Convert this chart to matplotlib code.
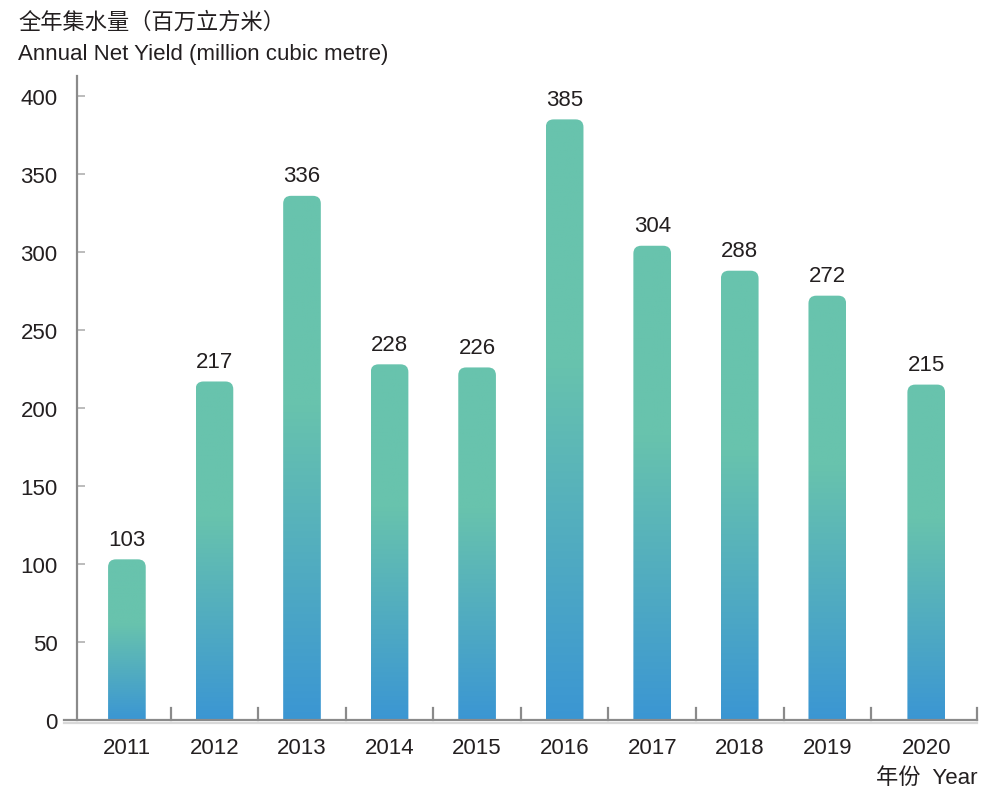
import numpy as np
import matplotlib
matplotlib.use('Agg')
import matplotlib.pyplot as plt
from matplotlib.path import Path
from matplotlib.patches import PathPatch
from matplotlib.colors import to_rgb

years = ['2011', '2012', '2013', '2014', '2015', '2016', '2017', '2018', '2019', '2020']
net_yield = [103, 217, 336, 228, 226, 385, 304, 288, 272, 215]
y_ticks = [0, 50, 100, 150, 200, 250, 300, 350, 400]

plt.rcParams['font.family'] = ['Liberation Sans', 'Noto Sans CJK SC', 'DejaVu Sans']

top_col = np.array(to_rgb('#68c3ad'))
bot_col = np.array(to_rgb('#3b96d3'))
axis_col = '#8a8a8a'
txt_col = '#231f20'

fig = plt.figure(figsize=(10, 8.04), dpi=100)
ax = fig.add_axes([0.077, 0.1032, 0.900, 0.8014])

bar_w = 0.43
x = np.arange(len(years)).astype(float)
# last category sits a little wider in the original layout
x[-1] += 0.13


def rounded_bar(ax, xc, h, w, rx, ry):
	x0, x1 = xc - w / 2, xc + w / 2
	verts = [(x0, 0), (x0, h - ry), (x0, h), (x0 + rx, h),
			 (x1 - rx, h), (x1, h), (x1, h - ry), (x1, 0), (x0, 0)]
	codes = [Path.MOVETO, Path.LINETO, Path.CURVE3, Path.CURVE3,
			 Path.LINETO, Path.CURVE3, Path.CURVE3, Path.LINETO, Path.CLOSEPOLY]
	patch = PathPatch(Path(verts, codes), facecolor='none', edgecolor='none')
	ax.add_patch(patch)
	# gradient: blue at bottom -> teal at ~60% height, teal above
	n = 256
	t = np.linspace(0, 1, n)
	f = np.clip(t / 0.6, 0, 1)
	cols = bot_col[None, :] * (1 - f[:, None]) + top_col[None, :] * f[:, None]
	img = ax.imshow(cols[:, None, :], extent=[x0, x1, 0, h], origin='lower',
					aspect='auto', interpolation='bilinear', zorder=2)
	img.set_clip_path(patch)


for xi, v in zip(x, net_yield):
	rounded_bar(ax, xi, v, bar_w, 0.09, 5.0)
	ax.annotate(str(v), (xi, v), xytext=(0, 7), textcoords='offset points',
				ha='center', va='bottom', fontsize=16, color=txt_col)

ax.set_xlim(-0.57, 9.71)
ax.set_ylim(0, 413)

for s in ['top', 'right', 'bottom']:
	ax.spines[s].set_visible(False)
ax.spines['left'].set_color(axis_col)
ax.spines['left'].set_linewidth(1.6)

ax.set_yticks(y_ticks)
ax.set_yticklabels([str(t) for t in y_ticks])
ax.tick_params(axis='y', direction='in', length=6, width=1.2, color='#b0b0b0',
			   pad=14, labelsize=16, labelcolor=txt_col)
ax.set_xticks(x)
ax.set_xticklabels(years)
ax.tick_params(axis='x', length=0, pad=12, labelsize=16, labelcolor=txt_col)

# baseline with light shadow
ax.plot([-0.72, 9.71], [0, 0], color=axis_col, lw=1.6, clip_on=False, zorder=3)
ax.plot([-0.72, 9.71], [-1.6, -1.6], color='#d8d8d8', lw=1.6, clip_on=False, zorder=3)

# separators between years
seps = list(np.arange(len(years) - 1) + 0.5) + [9.71]
for sx in seps:
	ax.plot([sx, sx], [0, 8], color=axis_col, lw=1.6, clip_on=False, zorder=3)

fig.text(0.018, 0.9726, '全年集水量（百万立方米）', fontsize=16, va='center', ha='left',
		 color=txt_col, family=['Noto Sans CJK SC', 'DejaVu Sans'])
fig.text(0.018, 0.9316, 'Annual Net Yield (million cubic metre)', fontsize=16,
		 va='center', ha='left', color=txt_col)
fig.text(0.978, 0.0323, '年份  Year', fontsize=16, va='center', ha='right', color=txt_col)

fig.savefig('out.png', dpi=100)
